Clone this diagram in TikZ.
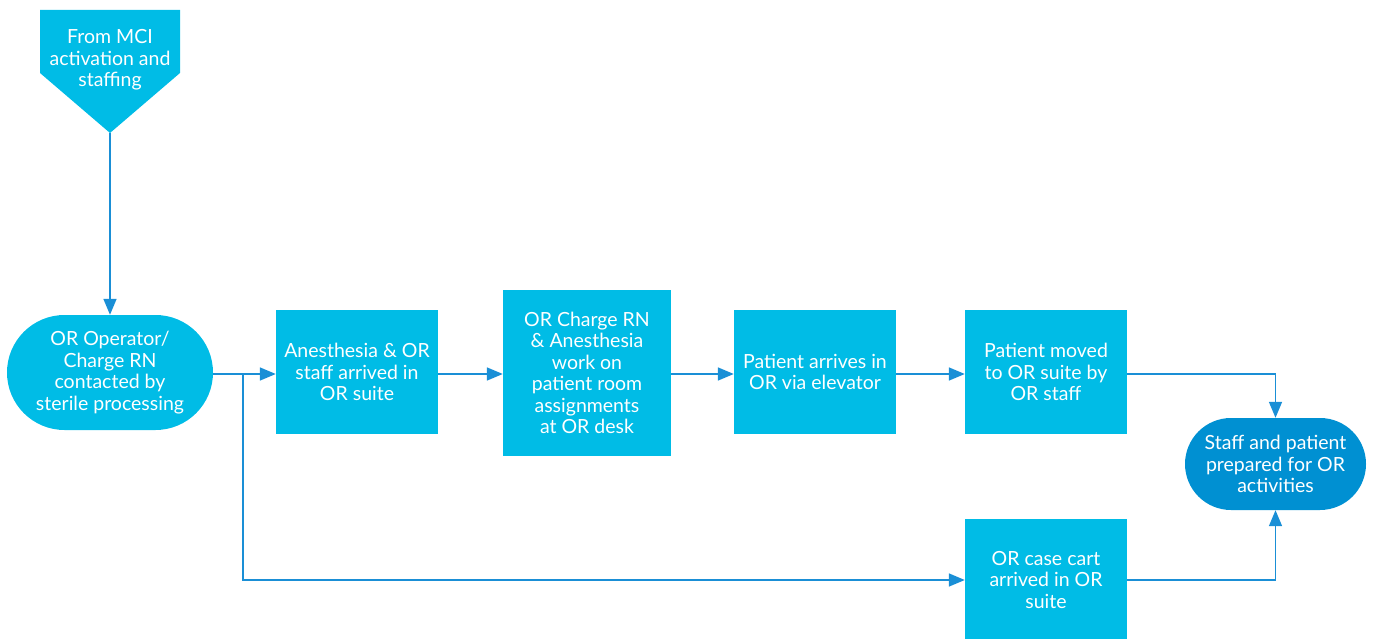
\documentclass[tikz,border=0pt]{standalone}
\usepackage{fontspec}
\setmainfont{Lato}
\usetikzlibrary{arrows.meta,shapes.misc}
\definecolor{boxc}{HTML}{00BCE6}
\definecolor{linec}{HTML}{1A8FD6}
\definecolor{endc}{HTML}{0090D2}
\tikzset{
  x=1pt,y=-1pt,
  txt/.style={text=white,align=center,font=\fontsize{19.5}{21.5}\selectfont},
  flowbox/.style={txt,fill=boxc,draw=none,inner sep=0pt},
  conn/.style={draw=linec,line width=1.6pt,-{Triangle[length=16pt,width=13pt]}}
}
\begin{document}
\begin{tikzpicture}
\useasboundingbox (0,0) rectangle (1379,639);
% pentagon start
\fill[boxc] (40,10) -- (180,10) -- (180,73) -- (110,133) -- (40,73) -- cycle;
\coordinate (s) at (110,133);
\node[txt] (st) at (110,60) {From MCI\\activation and\\staffing};
% nodes
\node[flowbox,rounded rectangle,minimum width=206pt,minimum height=115pt] (a) at (110,372.5) {OR Operator/\\Charge RN\\contacted by\\sterile processing};
\node[flowbox,minimum width=162pt,minimum height=124pt] (b) at (357,372) {Anesthesia \& OR\\staff arrived in\\OR suite};
\node[flowbox,minimum width=168pt,minimum height=166pt] (c) at (587,373) {OR Charge RN\\\& Anesthesia\\work on\\patient room\\assignments\\at OR desk};
\node[flowbox,minimum width=162pt,minimum height=124pt] (d) at (815,372) {Patient arrives in\\OR via elevator};
\node[flowbox,minimum width=162pt,minimum height=124pt] (e) at (1046,372) {Patient moved\\to OR suite by\\OR staff};
\node[flowbox,minimum width=162pt,minimum height=122pt] (f) at (1046,580) {OR case cart\\arrived in OR\\suite};
\node[flowbox,fill=endc,rounded rectangle,minimum width=181pt,minimum height=92pt] (g) at (1275.5,464) {Staff and patient\\prepared for OR\\activities};
% connectors
\draw[conn] (s) -- (a.north);
\coordinate (br) at (243,374);
\draw[conn] (a.east |- br) -- (b.west |- br);
\draw[conn] (b.east |- br) -- (c.west |- br);
\draw[conn] (c.east |- br) -- (d.west |- br);
\draw[conn] (d.east |- br) -- (e.west |- br);
\draw[conn] (e.east |- br) -| (g.north);
\draw[conn] (br) |- (f.west);
\draw[conn] (f.east) -| (g.south);
\end{tikzpicture}
\end{document}
